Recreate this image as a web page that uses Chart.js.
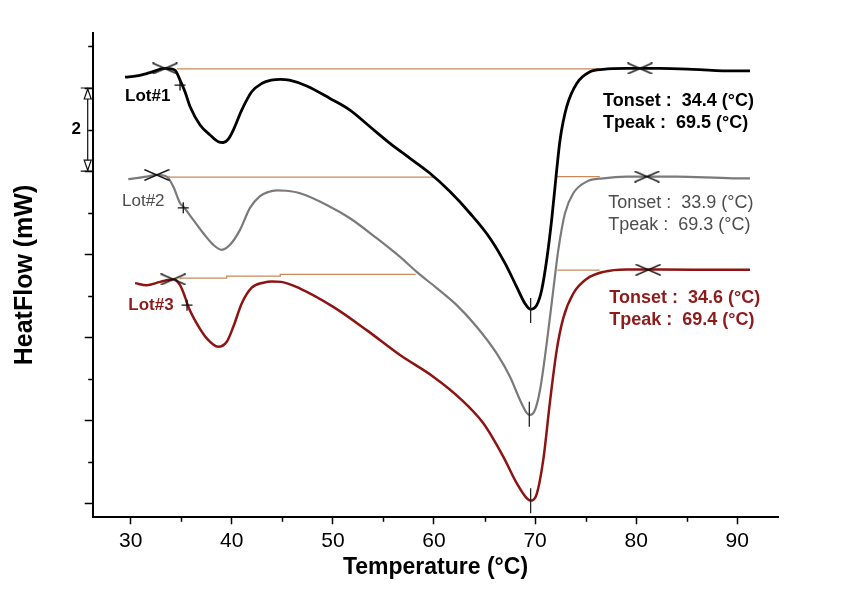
<!DOCTYPE html>
<html><head><meta charset="utf-8">
<script src="https://cdn.jsdelivr.net/npm/chart.js@4.4.1/dist/chart.umd.min.js"></script>
<style>html,body{margin:0;padding:0;background:#fff}#wrap{width:865px;height:600px}</style>
</head><body><div id="wrap"><canvas id="c" width="865" height="600"></canvas></div>
<script>
// ---- data (Temperature °C, HeatFlow mW, arbitrary offset per lot) ----
const lot1Temp = [29.44,30.59,31.91,33.39,34.38,34.88,35.37,35.88,36.86,37.85,38.66,39.16,39.65,40.15,40.98,41.97,42.96,43.9,44.8,45.7,47.41,49.71,51.69,53.67,55.65,57.63,59.60,61.58,63.56,65.54,67.02,68.18,69.00,69.56,70.16,70.65,71.15,71.64,72.14,72.47,73.13,74.12,75.43,76.72,79.06,82.36,85.62,89.58,91.26];
const lot1Flow = [10.26,10.29,10.37,10.47,10.43,10.19,9.91,9.55,9.11,8.87,8.71,8.69,8.77,8.99,9.47,9.91,10.11,10.19,10.21,10.19,10.05,9.75,9.47,9.07,8.67,8.31,7.95,7.51,6.99,6.39,5.79,5.22,4.82,4.68,4.78,5.14,5.87,6.83,8.03,8.75,9.55,10.11,10.39,10.45,10.47,10.47,10.45,10.41,10.41];
const lot2Temp = [29.76,31.58,32.57,33.56,34.21,34.88,35.2,36.19,37.18,38.17,39.0,39.82,40.81,41.8,42.79,43.6,44.44,45.4,46.75,49.39,51.69,54.33,56.64,58.29,60.27,62.25,64.22,66.2,67.52,68.51,69.17,69.5,69.99,70.49,71.15,71.8,72.3,72.96,73.78,75.1,76.75,79.06,84.01,89.6,91.26];
const lot2Flow = [7.81,7.87,7.91,7.87,7.63,7.23,7.15,6.83,6.51,6.23,6.11,6.23,6.59,7.12,7.40,7.50,7.54,7.53,7.47,7.19,6.87,6.39,5.94,5.58,5.19,4.78,4.26,3.62,3.06,2.5,2.19,2.14,2.26,2.74,3.86,5.14,6.11,6.99,7.47,7.75,7.83,7.87,7.87,7.83,7.83];
const lot3Temp = [30.43,31.58,32.9,34.21,34.88,35.37,35.7,36.53,37.52,38.66,39.5,40.15,40.98,41.97,43.12,44.0,44.9,46.75,50.04,53.34,56.64,59.93,62.57,64.88,66.85,68.18,69.17,69.56,70.16,70.81,71.47,72.14,72.79,73.78,75.1,76.75,79.06,85.65,91.26];
const lot3Flow = [5.31,5.26,5.34,5.40,5.26,4.98,4.74,4.34,3.98,3.78,3.90,4.26,4.82,5.20,5.32,5.35,5.34,5.18,4.74,4.18,3.58,3.06,2.54,1.94,1.14,0.50,0.14,0.08,0.24,1.06,2.45,3.70,4.47,5.06,5.41,5.58,5.64,5.63,5.63];

// onset baselines (null = gap)
const base1Temp = [34.6, 76.4];
const base1Flow = [10.46, 10.46];
const base2Temp = [33.8, 54.4, 60.1, 66.0, 72.2, 76.4];
const base2Flow = [7.89, 7.86, 7.86, null, 7.87, 7.87];
const base3Temp = [34.9, 39.5, 44.8, 50.0, 58.2, 66.0, 72.2, 76.4];
const base3Flow = [5.40, 5.43, 5.48, 5.52, 5.52, null, 5.62, 5.62];

// analysis markers
const onsetTemp = [33.39, 32.57, 34.21];
const onsetFlow = [10.47, 7.91, 5.40];
const endTemp = [80.37, 81.06, 81.2];
const endFlow = [10.47, 7.87, 5.63];
const tangentTemp = [34.88, 35.2, 35.57];
const tangentFlow = [10.07, 7.12, 4.78];
const peakTemp = [69.56, 69.43, 69.56];
const peakFlow = [4.65, 2.16, 0.08];

const lotNames = ['Lot#1', 'Lot#2', 'Lot#3'];
const tonsetValues = ['34.4', '33.9', '34.6'];
const tpeakValues = ['69.5', '69.3', '69.4'];
const xTickValues = [30, 40, 50, 60, 70, 80, 90];
const xTickLabels = ['30', '40', '50', '60', '70', '80', '90'];
const xMinorTicks = [35, 45, 55, 65, 75, 85];
const yMajorTicks = [0, 2, 4, 6, 8, 10];
const yMinorTicks = [1, 3, 5, 7, 9, 11];
const scaleBarLabel = '2';
const xTitle = 'Temperature (°C)';
const yTitle = 'HeatFlow (mW)';

// ---- helpers ----
const FONT = "'Liberation Sans', Arial, sans-serif";
const pts = (xs, ys) => xs.map((t, i) => ({x: t, y: ys[i]}));
function xMark(w, h) {
  const c = document.createElement('canvas');
  c.width = w; c.height = h;
  const g = c.getContext('2d');
  g.strokeStyle = '#111'; g.lineWidth = 1.4;
  g.beginPath();
  g.moveTo(0.5, 0.5); g.lineTo(w - 0.5, h - 0.5);
  g.moveTo(0.5, h - 0.5); g.lineTo(w - 0.5, 0.5);
  g.stroke();
  return c;
}
const crossImg = xMark(26, 12);

const BLACK = '#000000', GRAY = '#7a7a7a', RED = '#8e1414', BROWN = '#c98a5a';
const TEXT_GRAY = '#4d4d4d', TEXT_RED = '#8e1b1b';

const annotations = {
  id: 'annotations',
  afterDraw(chart) {
    const {ctx, scales: {x, y}} = chart;
    ctx.save();
    // minor ticks
    ctx.strokeStyle = '#000'; ctx.lineWidth = 1.5;
    ctx.beginPath();
    xMinorTicks.forEach(v => { const px = Math.round(x.getPixelForValue(v)) + 0.5; ctx.moveTo(px, x.top); ctx.lineTo(px, x.top + 4.5); });
    yMinorTicks.forEach(v => { const py = Math.round(y.getPixelForValue(v)) + 0.5; ctx.moveTo(y.right - 4.5, py); ctx.lineTo(y.right, py); });
    ctx.stroke();

    // scale bar (2 mW)
    const y10 = y.getPixelForValue(10), y8 = y.getPixelForValue(8);
    const xb = y.right - 5;
    ctx.lineWidth = 1.2; ctx.strokeStyle = '#111';
    ctx.beginPath();
    ctx.moveTo(xb, y10); ctx.lineTo(xb, y8);
    ctx.moveTo(xb - 7, y10); ctx.lineTo(xb + 4, y10);
    ctx.moveTo(xb - 7, y8); ctx.lineTo(xb + 4, y8);
    ctx.stroke();
    ctx.fillStyle = '#fff';
    ctx.beginPath(); ctx.moveTo(xb, y10 + 1); ctx.lineTo(xb - 3.5, y10 + 11); ctx.lineTo(xb + 3.5, y10 + 11); ctx.closePath(); ctx.fill(); ctx.stroke();
    ctx.beginPath(); ctx.moveTo(xb, y8 - 1); ctx.lineTo(xb - 3.5, y8 - 11); ctx.lineTo(xb + 3.5, y8 - 11); ctx.closePath(); ctx.fill(); ctx.stroke();
    ctx.fillStyle = '#000'; ctx.font = 'bold 17px ' + FONT;
    ctx.textAlign = 'center'; ctx.textBaseline = 'middle';
    ctx.fillText(scaleBarLabel, y.right - 16.5, y.getPixelForValue(9));

    // lot labels and results
    const styles = [
      {color: '#000', weight: 'bold', labelAt: [29.44, 9.81], textAt: [76.72, 9.69, 9.15]},
      {color: TEXT_GRAY, weight: 'normal', labelAt: [29.14, 7.27], textAt: [77.24, 7.23, 6.71]},
      {color: TEXT_RED, weight: 'bold', labelAt: [29.76, 4.78], textAt: [77.34, 4.94, 4.42]}
    ];
    ctx.textAlign = 'left'; ctx.textBaseline = 'middle';
    styles.forEach((s, i) => {
      ctx.fillStyle = s.color;
      ctx.font = s.weight + ' 17px ' + FONT;
      ctx.fillText(lotNames[i], x.getPixelForValue(s.labelAt[0]), y.getPixelForValue(s.labelAt[1]));
      ctx.font = s.weight + ' 18px ' + FONT;
      const tx = x.getPixelForValue(s.textAt[0]);
      ctx.fillText('Tonset :  ' + tonsetValues[i] + ' (°C)', tx, y.getPixelForValue(s.textAt[1]));
      ctx.fillText('Tpeak :  ' + tpeakValues[i] + ' (°C)', tx, y.getPixelForValue(s.textAt[2]));
    });
    ctx.restore();
  }
};

const curve = (label, xs, ys, color, w, order) => ({
  label, data: pts(xs, ys), borderColor: color, borderWidth: w, pointRadius: 0,
  cubicInterpolationMode: 'monotone', fill: false, order
});
const baseline = (xs, ys) => ({
  data: pts(xs, ys), borderColor: BROWN, borderWidth: 1.3, pointRadius: 0, stepped: 'after',
  spanGaps: false, fill: false, order: 10
});

new Chart(document.getElementById('c'), {
  type: 'line',
  data: {
    datasets: [
      {data: pts(onsetTemp, onsetFlow).concat(pts(endTemp, endFlow)), showLine: false, pointStyle: crossImg, pointRadius: 6, order: 0},
      {data: pts(tangentTemp, tangentFlow), showLine: false, pointStyle: 'cross', pointRadius: 5.5, pointBorderColor: '#111', pointBorderWidth: 1.3, order: 0},
      {data: pts(peakTemp, peakFlow), showLine: false, pointStyle: 'line', pointRotation: 90, pointRadius: 12.5, pointBorderColor: '#222', pointBorderWidth: 1.3, order: 0},
      curve('Lot#1', lot1Temp, lot1Flow, BLACK, 2.8, 3),
      curve('Lot#2', lot2Temp, lot2Flow, GRAY, 2.2, 4),
      curve('Lot#3', lot3Temp, lot3Flow, RED, 2.5, 5),
      baseline(base1Temp, base1Flow),
      baseline(base2Temp, base2Flow),
      baseline(base3Temp, base3Flow)
    ]
  },
  options: {
    responsive: false, animation: false, devicePixelRatio: 1,
    layout: {padding: {top: 32.7, right: 86.7, bottom: 0, left: 0}},
    plugins: {legend: {display: false}, tooltip: {enabled: false}},
    scales: {
      x: {
        type: 'linear', min: 26.24, max: 94.06,
        afterBuildTicks: s => { s.ticks = xTickValues.map(v => ({value: v})); },
        afterFit: s => { s.height = 82.7; },
        ticks: {callback: (v, i) => xTickLabels[i], color: '#000', font: {family: FONT, size: 21}, padding: 4, maxRotation: 0},
        grid: {display: true, drawOnChartArea: false, drawTicks: true, tickLength: 7, tickColor: '#000', tickWidth: 1.5},
        border: {display: true, color: '#000', width: 2},
        title: {display: true, text: xTitle, color: '#000', font: {family: FONT, size: 23, weight: 'bold'}, padding: {top: 0, bottom: 19}}
      },
      y: {
        type: 'linear', min: -0.32, max: 11.33,
        afterBuildTicks: s => { s.ticks = yMajorTicks.map(v => ({value: v})); },
        afterFit: s => { s.width = 92.7; },
        ticks: {display: false},
        grid: {display: true, drawOnChartArea: false, drawTicks: true, tickLength: 8, tickColor: '#000', tickWidth: 1.5},
        border: {display: true, color: '#000', width: 2},
        title: {display: true, text: yTitle, color: '#000', font: {family: FONT, size: 25, weight: 'bold'}, padding: {top: 10, bottom: 0}}
      }
    }
  },
  plugins: [annotations]
});
</script></body></html>
